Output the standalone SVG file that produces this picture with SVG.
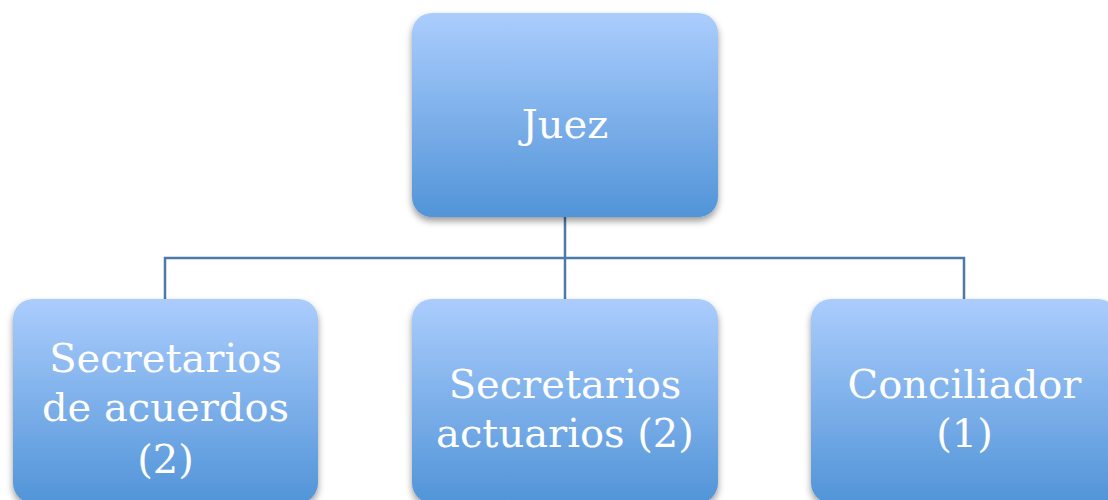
<svg xmlns="http://www.w3.org/2000/svg" width="1108" height="500" viewBox="0 0 1108 500">
<defs>
<linearGradient id="g" x1="0" y1="0" x2="0" y2="1">
<stop offset="0" stop-color="#abcdfd"/>
<stop offset="1" stop-color="#5194d8"/>
</linearGradient>
<filter id="sh" x="-10%" y="-10%" width="120%" height="125%">
<feDropShadow dx="0" dy="4" stdDeviation="3.5" flood-color="#000" flood-opacity="0.4"/>
</filter>
<style>
.box{fill:url(#g);filter:url(#sh)}
.t{font-family:"DejaVu Serif","Liberation Serif",serif;font-size:40px;fill:#fff;text-anchor:middle}
.c{fill:none;stroke:#4f79a8;stroke-width:2.5}
</style>
</defs>
<rect width="1108" height="500" fill="#fff"/>
<g id="connectors">
<path class="c" d="M565 217V258M165 299V258H964V299M565 258V299"/>
</g>
<g id="juez">
<rect class="box" x="412" y="13" width="306" height="204" rx="20"/>
<text class="t" x="565" y="138">Juez</text>
</g>
<g id="secretarios-acuerdos">
<rect class="box" x="13" y="299" width="305" height="204" rx="20"/>
<text class="t" x="165.5" y="372">Secretarios</text>
<text class="t" x="165.5" y="421">de acuerdos</text>
<text class="t" x="165.5" y="473">(2)</text>
</g>
<g id="secretarios-actuarios">
<rect class="box" x="412" y="299" width="306" height="204" rx="20"/>
<text class="t" x="565" y="398">Secretarios</text>
<text class="t" x="565" y="447">actuarios (2)</text>
</g>
<g id="conciliador">
<rect class="box" x="811" y="299" width="307" height="204" rx="20"/>
<text class="t" x="964.5" y="398">Conciliador</text>
<text class="t" x="964.5" y="447">(1)</text>
</g>
</svg>
